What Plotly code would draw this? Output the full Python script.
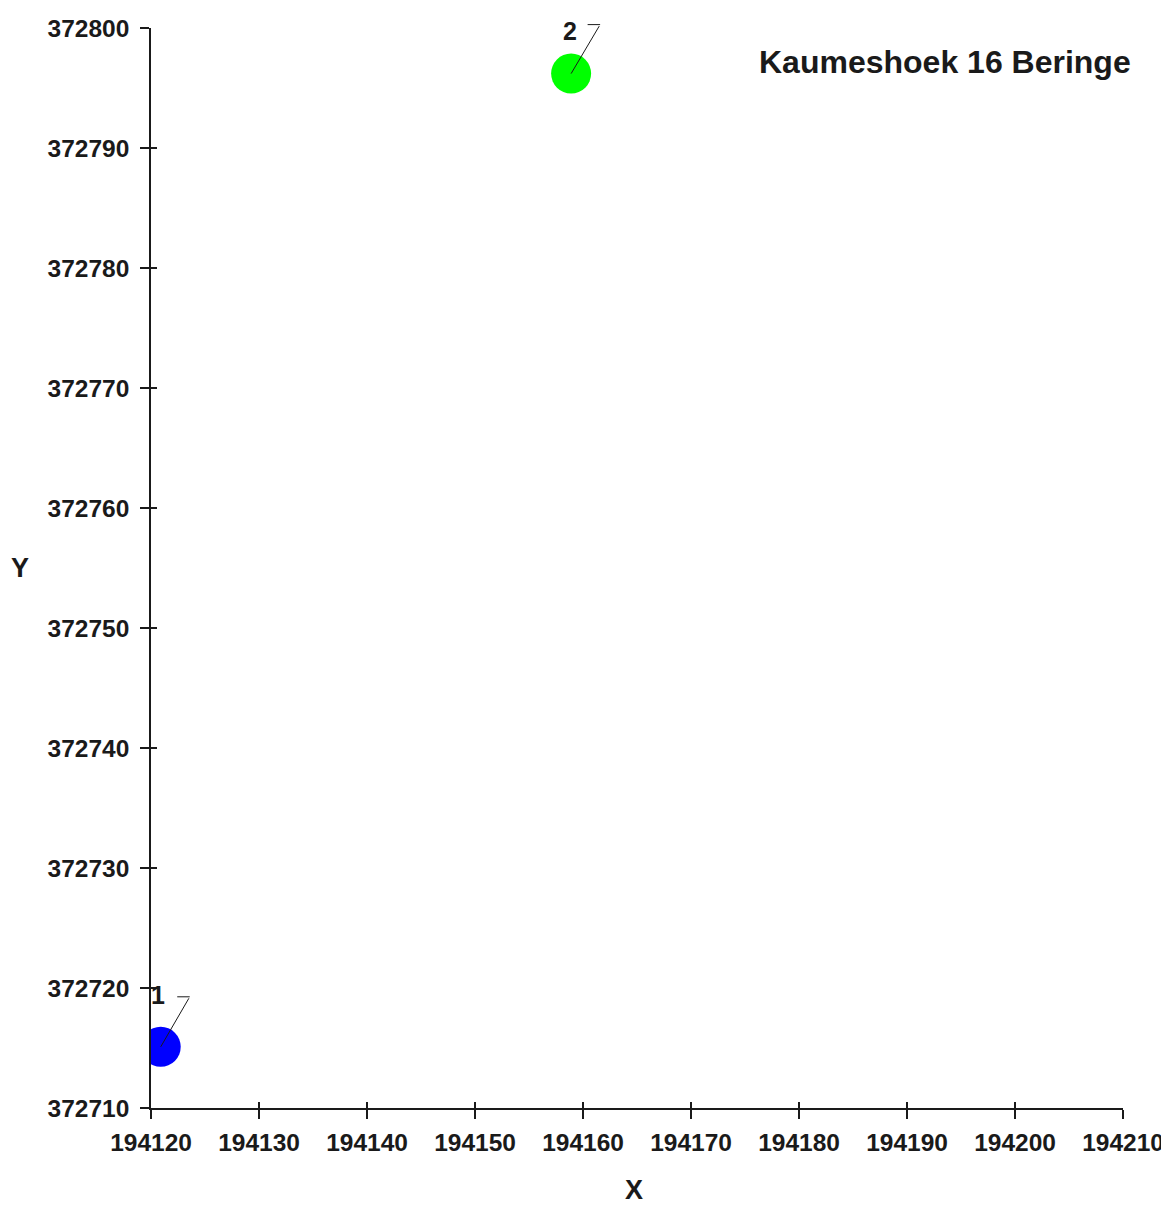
import plotly.graph_objects as go

# ---- data ----
point_labels = ["1", "2"]
x_vals = [194120.9, 194158.9]
y_vals = [372715.1, 372796.2]
point_colors = ["#0000FF", "#00FF00"]
chart_title = "Kaumeshoek 16 Beringe"
x_title = "X"
y_title = "Y"
x_range = [194120, 194210]
y_range = [372710, 372800]

# ---- styles ----
FONT = "Liberation Sans"
INK = "#1a1a1a"
OFF = 8  # default page body margin
W, H = 1169 - OFF, 1205 - OFF
L, T = 151 - OFF, 28 - OFF
R = W - (1123 - OFF)
B = H - (1108 - OFF)
PW, PH = W - L - R, H - T - B
label_shift = [(-3, 52), (-1, 43)]      # label text offset (px) from point
leader_tail = [(29, -50), (29, -49)]    # tail of diagonal leader (px) from point
leader_hlen = 14

fig = go.Figure()
fig.add_trace(go.Scatter(
    x=x_vals, y=y_vals, mode="markers",
    marker=dict(size=40, color=point_colors, line=dict(width=0)),
    hoverinfo="skip", showlegend=False,
))
# helper trace for overlay axes (crossing ticks)
fig.add_trace(go.Scatter(x=[], y=[], xaxis="x2", yaxis="y2", showlegend=False))

axis_common = dict(
    dtick=10, tickformat="d", showgrid=False, zeroline=False, automargin=False,
    tickfont=dict(family=FONT, size=24.5, color=INK, weight="bold"),
    linecolor=INK, linewidth=1.6, tickcolor=INK, tickwidth=1.6,
)
fig.update_layout(
    width=W, height=H,
    margin=dict(l=L, r=R, t=T, b=B),
    paper_bgcolor="white", plot_bgcolor="white",
    font=dict(family=FONT, color=INK),
    xaxis=dict(range=x_range, ticks="outside", ticklen=9, showline=True,
               ticklabelstandoff=3, **axis_common),
    yaxis=dict(range=y_range, ticks="outside", ticklen=9, showline=True,
               ticklabelstandoff=6, **axis_common),
    xaxis2=dict(range=x_range, overlaying="x", anchor="y", ticks="inside", ticklen=6,
                dtick=10, showticklabels=False, showline=False, showgrid=False,
                zeroline=False, automargin=False, tickcolor=INK, tickwidth=1.6),
    yaxis2=dict(range=y_range, overlaying="y", anchor="x", ticks="inside", ticklen=6,
                dtick=10, showticklabels=False, showline=False, showgrid=False,
                zeroline=False, automargin=False, tickcolor=INK, tickwidth=1.6),
)

for lab, xv, yv, (sx, sy), (tx, ty) in zip(point_labels, x_vals, y_vals, label_shift, leader_tail):
    fig.add_annotation(x=xv, y=yv, text=f"<b>{lab}</b>", showarrow=False,
                       xshift=sx, yshift=sy,
                       font=dict(family=FONT, size=25, color=INK))
    fig.add_annotation(x=xv, y=yv, text="", showarrow=True, arrowhead=0,
                       arrowwidth=1, arrowcolor=INK, ax=tx, ay=ty, standoff=0)
    fig.add_annotation(x=xv, y=yv, text="", showarrow=True, arrowhead=0,
                       arrowwidth=1, arrowcolor=INK, xshift=tx, yshift=-ty,
                       ax=-leader_hlen, ay=0, standoff=0)

def px_to_paper(px, py):
    # px, py are screen pixels
    return (px - OFF - L) / PW, (H - B - (py - OFF)) / PH

tx_, ty_ = px_to_paper(1133, 62)
fig.add_annotation(xref="paper", yref="paper", x=tx_, y=ty_,
                   xanchor="right", yanchor="middle", showarrow=False,
                   text=f"<b>{chart_title}</b>",
                   font=dict(family=FONT, size=32, color=INK))
xx, xy = px_to_paper(634, 1190)
fig.add_annotation(xref="paper", yref="paper", x=xx, y=xy,
                   xanchor="center", yanchor="middle", showarrow=False,
                   text=f"<b>{x_title}</b>",
                   font=dict(family=FONT, size=27, color=INK))
yx, yy = px_to_paper(20, 568)
fig.add_annotation(xref="paper", yref="paper", x=yx, y=yy,
                   xanchor="center", yanchor="middle", showarrow=False,
                   text=f"<b>{y_title}</b>",
                   font=dict(family=FONT, size=27, color=INK))

fig.write_html("out.html")
